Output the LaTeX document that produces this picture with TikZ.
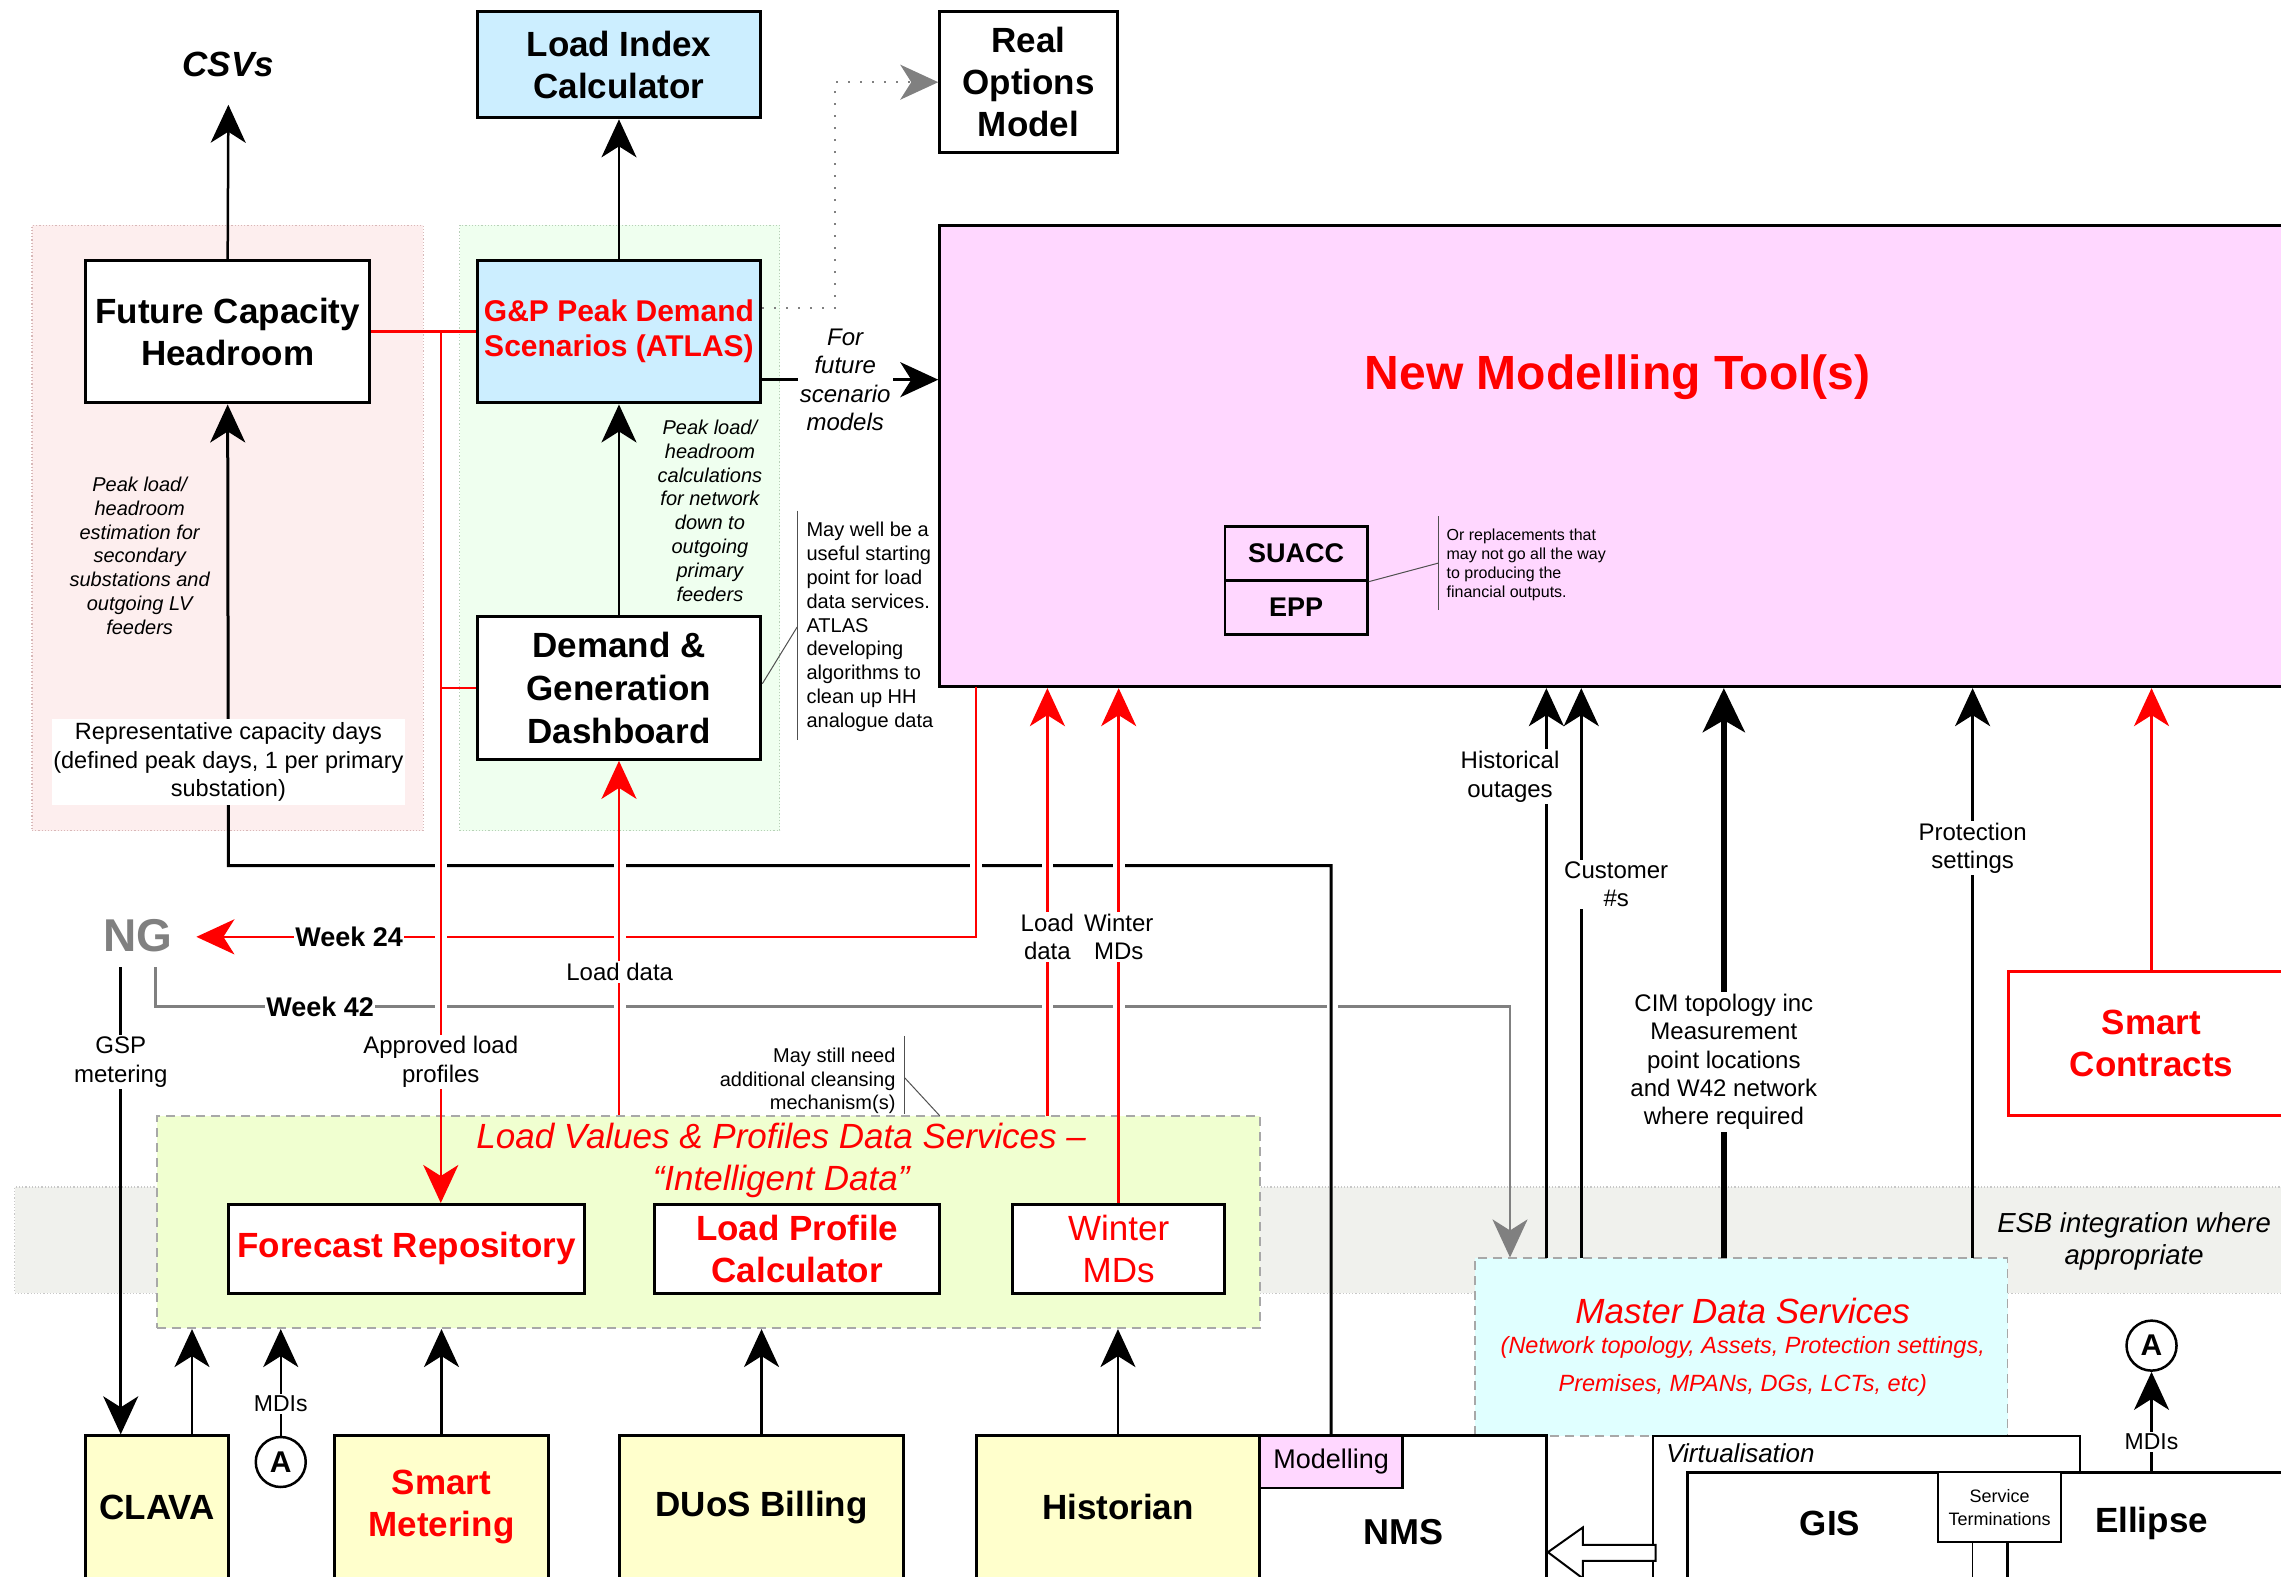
\documentclass[tikz,border=0pt]{standalone}
\usepackage{fontspec}
\setmainfont{Liberation Sans}
\usetikzlibrary{arrows.meta,fit,calc}

% font size helper: size and baseline skip in pt
\newcommand\fsz[2]{\fontsize{#1}{#2}\selectfont}
% white break in a horizontal line where a vertical line crosses it
\newcommand\linegap[1]{\fill[white] ($(#1)+(-4,-2.5)$) rectangle ($(#1)+(4,2.5)$);}
% box node from its corners: style, name, x1, y1, x2, y2, text
\newcommand\boxnode[7]{\node[#1, minimum width={(#5-#3)*1.4547pt},
  minimum height={(#6-#4)*1.4547pt}] (#2) at ({(#3+#5)/2},{(#4+#6)/2}) {#7};}

\definecolor{dred}{HTML}{FF0000}
\definecolor{dgray}{HTML}{808080}
\definecolor{skyfill}{HTML}{CCEEFF}
\definecolor{pinkzone}{HTML}{FDEEEE}
\definecolor{pinkedge}{HTML}{D8B8B8}
\definecolor{greenzone}{HTML}{EFFFEF}
\definecolor{greenedge}{HTML}{B8D0B8}
\definecolor{magentafill}{HTML}{FFD7FF}
\definecolor{limefill}{HTML}{F0FFD0}
\definecolor{cyanfill}{HTML}{E0FFFF}
\definecolor{esbfill}{HTML}{F0F1ED}
\definecolor{esbedge}{HTML}{C8C8C8}
\definecolor{creamfill}{HTML}{FFFFCC}
\definecolor{calloutgray}{HTML}{505050}
\definecolor{zoneedge}{HTML}{A8A8A8}

\tikzset{
  bighead/.tip={Stealth[length=38pt,width=35pt,inset=11pt]},
  panel/.style={draw=black, line width=3pt, inner sep=0pt, align=center,
                font=\bfseries\fsz{35}{42}},
  skybox/.style={panel, fill=skyfill},
  creambox/.style={panel, fill=creamfill},
  whitebox/.style={panel, fill=white},
  zone/.style={inner sep=0pt, line width=1.2pt},
  dashzone/.style={zone, draw=zoneedge, line width=1.8pt, dash pattern=on 9pt off 6pt},
  conn/.style={line width=2.5pt},
  arr/.style={conn, -bighead},
  redarr/.style={arr, draw=dred},
  redline/.style={conn, draw=dred},
  grayarr/.style={arr, draw=dgray},
  flowlbl/.style={fill=white, inner sep=2pt, align=center, font=\fsz{24}{28.4}},
  weeklbl/.style={fill=white, inner sep=1pt, font=\bfseries\fsz{27}{32}},
  notetext/.style={align=center, font=\itshape\fsz{20}{23.8}},
  callline/.style={draw=calloutgray, line width=1pt},
  letter/.style={circle, draw, line width=2.5pt, fill=white, minimum size=50pt,
                 inner sep=0pt, font=\bfseries\fsz{30}{34}},
}

\begin{document}
\begin{tikzpicture}[x=1.4547pt,y=-1.4547pt]
\useasboundingbox (0,0) rectangle (1568,1084);
\clip (0,0) rectangle (1568,1084);

% ---------- background zones ----------
\node[zone, fill=esbfill, draw=esbedge, dotted, fit={(10,816) (1600,889)}] (esb) {};
\node[zone, fill=pinkzone, draw=pinkedge, dotted, fit={(22,155) (291,571)}] (pzone) {};
\node[zone, fill=greenzone, draw=greenedge, dotted, fit={(316,155) (536,571)}] (gzone) {};
\node[dashzone, fill=limefill, fit={(108,767) (866,913)}] (lvp) {};
\node[dashzone, fill=cyanfill, fit={(1014,865) (1380,987)}] (mds) {};
\node[panel, fill=magentafill, fit={(646,155) (1600,472)}] (nmt) {};

\node[align=center, font=\itshape\fsz{27.5}{32}] (esbtxt) at (1467,853)
  {ESB integration where\\appropriate};
\node[align=center, font=\itshape\fsz{35}{42}, text=dred] (lvptitle) at (537,798)
  {Load Values \& Profiles Data Services --\\``Intelligent Data''};
\node[font=\itshape\fsz{35}{42}, text=dred] (mdstitle) at (1198,901) {Master Data Services};
\node[align=center, font=\itshape\fsz{23.5}{38}, text=dred] (mdssub) at (1198,939)
  {(Network topology, Assets, Protection settings,\\Premises, MPANs, DGs, LCTs, etc)};

% ---------- boxes ----------
\node[font=\bfseries\itshape\fsz{35}{42}] (csv) at (157,44) {CSVs};
\boxnode{skybox}{lic}{328}{8}{523}{81}{Load Index\\Calculator}
\boxnode{whitebox}{rom}{646}{8}{768}{105}{Real\\Options\\Model}
\boxnode{whitebox}{fch}{59}{179}{254}{277}{Future Capacity\\Headroom}
\boxnode{skybox, text=dred, font=\bfseries\fsz{30}{35}}{gp}{328}{179}{523}{277}
  {G\&P Peak Demand\\Scenarios (ATLAS)}
\boxnode{whitebox, font=\bfseries\fsz{35}{43}}{dgd}{328}{424}{523}{522}
  {Demand \&\\Generation\\Dashboard}

\node[font=\bfseries\fsz{48}{56}, text=dred] (nmttitle) at (1112,259) {New Modelling Tool(s)};
\boxnode{panel, line width=2.5pt, fill=magentafill, font=\bfseries\fsz{27}{32}}{suacc}{842}{362}{940}{399}{SUACC}
\boxnode{panel, line width=2.5pt, fill=magentafill, font=\bfseries\fsz{27}{32}}{epp}{842}{399}{940}{436}{EPP}

\boxnode{whitebox, text=dred}{fr}{157}{828}{402}{889}{Forecast Repository}
\boxnode{whitebox, text=dred}{lpc}{450}{828}{646}{889}{Load Profile\\Calculator}
\boxnode{whitebox, text=dred, font=\fsz{35}{42}}{wmd}{696}{828}{842}{889}{Winter\\MDs}
\boxnode{whitebox, draw=dred, text=dred}{sc}{1381}{668}{1577}{767}{Smart\\Contracts}

\boxnode{creambox}{clava}{59}{987}{157}{1085}{CLAVA}
\boxnode{creambox, text=dred}{smm}{230}{987}{377}{1085}{Smart\\Metering}
\boxnode{creambox}{duos}{426}{987}{621}{1085}{DUoS Billing}
\boxnode{creambox}{hist}{671}{987}{866}{1085}{Historian}
\boxnode{whitebox, font=\bfseries\fsz{36}{42}}{nms}{866}{987}{1063}{1119}{NMS}
\boxnode{panel, line width=2.5pt, fill=magentafill, font=\fsz{27}{32}}{modl}{866}{987}{964}{1023}{Modelling}

\node[whitebox, line width=2pt, fit={(1136,987) (1430,1110)}] (virt) {};
\node[anchor=west, font=\itshape\fsz{26}{30}] (virtlbl) at (1143,999) {Virtualisation};
\node[whitebox, fit={(1160,1012) (1380,1110)}] (gis) {};
\node[whitebox, fit={(1380,1012) (1600,1110)}] (ell) {};
\node[font=\bfseries\fsz{35}{42}] (gistxt) at (1258,1047) {GIS};
\node[font=\bfseries\fsz{35}{42}] (elltxt) at (1479,1047) {Ellipse};
\boxnode{whitebox, line width=2pt, font=\fsz{18}{23}}{svt}{1332}{1012}{1417}{1060}{Service\\Terminations}
\draw[line width=1.2pt] (svt.south -| 1356,0) -- ++(0,30);

\node[letter] (aL) at (193,1005) {A};
\node[letter] (aR) at (1479,925) {A};
\node[font=\bfseries\fsz{46}{50}, text=dgray] (ng) at (95,643) {NG};

% hollow block arrow from the virtualised systems into NMS
\coordinate (hTip) at ($(nms.east)+(0,14)$);
\draw[line width=2pt, fill=white] (hTip) -- ++(24,-17) -- ++(0,12) -- ++(50,0)
  -- ++(0,11) -- ++(-50,0) -- ++(0,12) -- cycle;

% ---------- long feeds (drawn under the crossings) ----------
\coordinate (ngW) at (107,665);
\coordinate (w42c) at (1038,692);
\draw[grayarr] (ngW) |- (w42c) -- (w42c |- mds.north);
\foreach \x in {303,426,720,769,916} {\linegap{\x,692}}

\coordinate (fchB) at (157,595);
\draw[arr, line width=3pt] (modl.north) |- (fchB) -- (fch.south);
\foreach \x in {303,426,671,720,769} {\linegap{\x,595}}

\coordinate (nmtB) at (671,472);
\coordinate (ngIn) at (135,644);
\draw[redarr] (nmtB) |- (ngIn);
\foreach \x in {303,426} {\linegap{\x,644}}

% ---------- red data flows ----------
\coordinate (rj) at (303,228);
\draw[redline] (fch.east) -- (gp.west);
\draw[redarr] (rj) -- (rj |- fr.north);
\draw[redline] (rj |- dgd.west) -- (dgd.west);
\draw[redarr] (lvp.north -| dgd.south) -- (dgd.south);
\coordinate (ldUp) at (720,767);
\draw[redarr] (ldUp) -- (ldUp |- nmt.south);
\draw[redarr] (wmd.north) -- (wmd.north |- nmt.south);
\draw[redarr] (sc.north) -- (sc.north |- nmt.south);

% ---------- black flows ----------
\coordinate (csvIn) at (157,72);
\draw[arr] (fch.north) -- (csvIn);
\draw[arr] (gp.north) -- (lic.south);
\draw[arr] (dgd.north) -- (gp.south);
\coordinate (gpOut) at ($(gp.east)+(0,33)$);
\draw[arr] (gpOut) -- (gpOut -| nmt.west);
\coordinate (gpDot) at ($(gp.east)+(0,-16)$);
\draw[grayarr, line width=2pt, dash pattern=on 2pt off 10pt] (gpDot) -- ++(50,0) |- (rom.west);

\coordinate (ngG) at (83,665);
\draw[arr] (ngG) -- (ngG |- clava.north);
\coordinate (clavaUp) at (132,987);
\draw[arr] (clavaUp) -- (clavaUp |- lvp.south);
\draw[arr] (aL.north) -- (aL.north |- lvp.south);
\draw[arr] (smm.north) -- (smm.north |- lvp.south);
\draw[arr] (duos.north) -- (duos.north |- lvp.south);
\draw[arr] (hist.north) -- (hist.north |- lvp.south);

\coordinate (mdsA) at (1063,865);
\coordinate (mdsB) at (1087,865);
\coordinate (mdsC) at (1185,865);
\coordinate (mdsD) at (1356,865);
\draw[arr] (mdsA) -- (mdsA |- nmt.south);
\draw[arr] (mdsB) -- (mdsB |- nmt.south);
\draw[line width=6pt, -{Stealth[length=44pt,width=42pt,inset=12pt]}] (mdsC) -- (mdsC |- nmt.south);
\draw[arr] (mdsD) -- (mdsD |- nmt.south);
\coordinate (ellUp) at (1479,1012);
\draw[arr] (ellUp) -- (aR.south);

% ---------- callouts ----------
\draw[callline] ($(dgd.east)+(0,-3)$) -- (548,431);
\draw[callline] (548,351) -- (548,509);
\node[anchor=west, align=left, font=\fsz{20}{23.8}] (dgdnote) at (552,431)
  {May well be a\\useful starting\\point for load\\data services.\\ATLAS\\developing\\algorithms to\\clean up HH\\analogue data};
\draw[callline] (suacc.south east) -- (989,387);
\draw[callline] (989,355) -- (989,419);
\node[anchor=west, align=left, font=\fsz{16}{19}] (suaccnote) at (992,388)
  {Or replacements that\\may not go all the way\\to producing the\\financial outputs.};
\draw[callline] (622,712) -- (622,766);
\draw[callline] (622,741) -- (646,767);
\node[anchor=east, align=right, font=\fsz{20}{23.3}] (cleannote) at (618,743)
  {May still need\\additional cleansing\\mechanism(s)};

\node[notetext] (pknote1) at (96,382)
  {Peak load/\\headroom\\estimation for\\secondary\\substations and\\outgoing LV\\feeders};
\node[notetext] (pknote2) at (488,351)
  {Peak load/\\headroom\\calculations\\for network\\down to\\outgoing\\primary\\feeders};

% ---------- connector labels ----------
\node[fill=white, inner sep=0pt, minimum width=353pt, minimum height=86pt, align=center,
      font=\fsz{23.5}{28.4}] (rcd) at (157,524)
  {Representative capacity days\\(defined peak days, 1 per primary\\substation)};
\node[flowlbl, font=\itshape\fsz{24}{28.4}] (ffs) at (581,261) {For\\future\\scenario\\models};
\node[weeklbl] (w24) at (240,644) {Week 24};
\node[weeklbl] (w42) at (220,692) {Week 42};
\node[flowlbl] (ldlbl) at (426,668) {Load data};
\node[flowlbl] (ldlbl2) at (720,644) {Load\\data};
\node[flowlbl] (wmdlbl) at (769,644) {Winter\\MDs};
\node[flowlbl] (gsplbl) at (83,730) {GSP\\metering};
\node[flowlbl] (alplbl) at (303,730) {Approved load\\profiles};
\node[flowlbl] (holbl) at (1038,534) {Historical\\outages};
\node[flowlbl] (cuslbl) at (1111,608) {Customer\\\#s};
\node[flowlbl] (prlbl) at (1356,583) {Protection\\settings};
\node[flowlbl] (cimlbl) at (1185,730)
  {CIM topology inc\\Measurement\\point locations\\and W42 network\\where required};
\node[flowlbl, font=\fsz{23}{27}] (mdil) at (193,965) {MDIs};
\node[flowlbl, font=\fsz{23}{27}] (mdir) at (1479,991) {MDIs};
\end{tikzpicture}
\end{document}
